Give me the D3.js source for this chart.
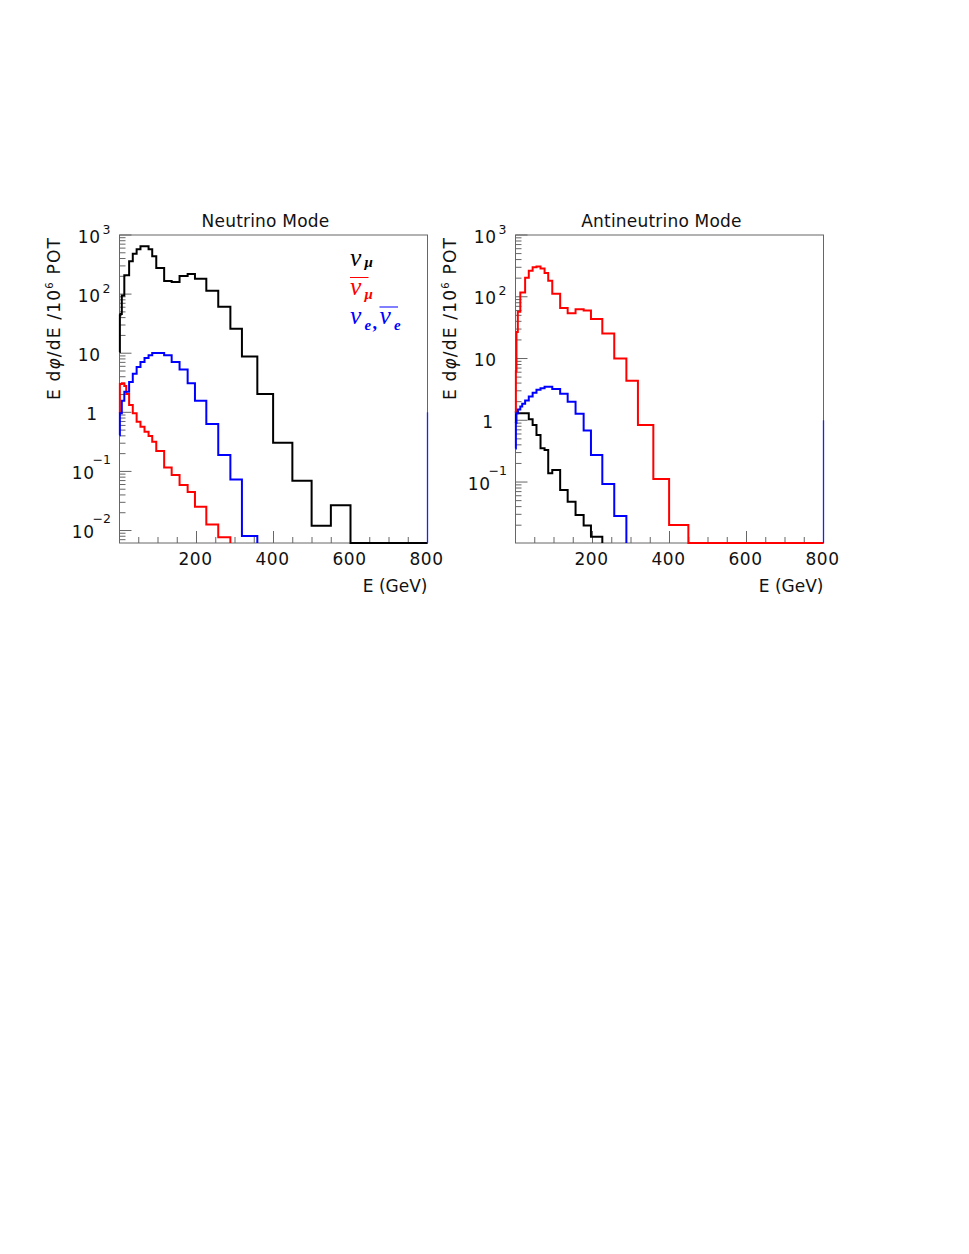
<!DOCTYPE html>
<html><head><meta charset="utf-8">
<script src="https://cdn.jsdelivr.net/npm/d3@7"></script>
<style>body{margin:0;background:#fff} svg{display:block}</style>
</head><body>
<script>
// ---- data ----
const binEdges = [0, 1, 2.5, 6, 12.5, 17.5, 25, 34.5, 44.5, 54.5, 65, 75.5, 85, 95.5, 116, 135.5, 156, 177, 196, 225.5, 256.5, 288, 318, 358, 399, 449, 499, 549, 600, 800];

// Neutrino mode
const nuNumu    = [10.5, 44, 46, 95, 208, 208, 359, 483, 572, 643, 643, 572, 437, 277, 167, 160, 202, 219, 182, 114, 61, 26, 8.8, 2.04, 0.306, 0.0697, 0.012, 0.0267, 0];
const nuNumubar = [0.96, 3.0, 3.0, 3.1, 2.79, 2.04, 1.33, 0.96, 0.69, 0.57, 0.47, 0.397, 0.318, 0.221, 0.117, 0.087, 0.059, 0.045, 0.0253, 0.0127, 0.0077];
const nuNue     = [0.41, 0.96, 0.96, 1.57, 2.23, 2.23, 3.26, 4.5, 5.85, 7.1, 8.3, 9.2, 10.1, 10.1, 9.2, 7.1, 5.3, 3.1, 1.57, 0.634, 0.19, 0.073, 0.0081];

// Antineutrino mode
const antiNumu    = [0.9, 1.38, 1.38, 1.3, 1.3, 1.3, 1.3, 1.04, 0.84, 0.58, 0.353, 0.33, 0.139, 0.157, 0.0744, 0.048, 0.0293, 0.0197, 0.013];
const antiNumubar = [1.3, 6.2, 27, 57, 117, 117, 203, 264, 300, 310, 288, 242, 182, 112, 66, 54, 63, 60, 43.5, 25.4, 10, 4.35, 0.84, 0.112, 0.0202, 0, 0, 0, 0];
const antiNue     = [0.35, 0.9, 1.3, 1.5, 1.67, 1.85, 2.1, 2.42, 2.8, 3.11, 3.3, 3.5, 3.5, 3.2, 2.7, 2.0, 1.27, 0.68, 0.275, 0.093, 0.0282];

const edgeLineValue = 1;          // thin blue line drawn at E = 800
const panelTitles = ["Neutrino Mode", "Antineutrino Mode"];
const xDomain = [0, 800];
const xMajorTicks = [200, 400, 600, 800];
const yMaxValue = 1000;
const yMinNu = 0.00615, yMinAnti = 0.0103;
const xTitle = "E (GeV)";
const seriesColors = ["#000000", "#ff0000", "#0000ff"];

// ---- drawing ----
const W = 969, H = 1254;
const svg = d3.select("body").append("svg").attr("width", W).attr("height", H);
const FONT = "'DejaVu Sans', sans-serif";

const panels = [
  {x0: 119.5, title: panelTitles[0], yMin: yMinNu, series: [nuNumu, nuNumubar, nuNue], legend: true},
  {x0: 515.5, title: panelTitles[1], yMin: yMinAnti, series: [antiNumu, antiNumubar, antiNue], legend: false}
];
const frameTop = 235, frameBottom = 543, pw = 308;

panels.forEach(P => {
  const x = d3.scaleLinear().domain(xDomain).range([P.x0, P.x0 + pw]);
  const y = d3.scaleLog().domain([P.yMin, yMaxValue]).range([frameBottom, frameTop]);
  const g = svg.append("g");

  // frame
  g.append("rect").attr("x", P.x0).attr("y", frameTop).attr("width", pw).attr("height", frameBottom - frameTop)
    .attr("fill", "none").attr("stroke", "#666").attr("stroke-width", 1);

  // x ticks
  d3.range(0, 801, 50).forEach(v => {
    const len = (v % 200 === 0) ? 12 : 6;
    g.append("line").attr("x1", x(v)).attr("x2", x(v)).attr("y1", frameBottom).attr("y2", frameBottom - len)
      .attr("stroke", "#666").attr("stroke-width", 1);
  });
  xMajorTicks.forEach(v => {
    g.append("text").attr("x", x(v) - 1).attr("y", frameBottom + 22).attr("text-anchor", "middle")
      .attr("font-family", FONT).attr("font-size", 17).attr("letter-spacing", 0.5).attr("fill", "#111").text(v);
  });
  g.append("text").attr("x", P.x0 + pw).attr("y", frameBottom + 49).attr("text-anchor", "end")
    .attr("font-family", FONT).attr("font-size", 17).attr("fill", "#111").text(xTitle);

  // y ticks (log)
  const kMin = Math.floor(Math.log10(P.yMin));
  for (let k = kMin; k <= 3; k++) {
    for (let m = 1; m <= 9; m++) {
      const v = m * Math.pow(10, k);
      if (v < P.yMin * 0.999 || v > yMaxValue * 1.001) continue;
      const len = m === 1 ? 12 : 6;
      g.append("line").attr("x1", P.x0).attr("x2", P.x0 + len).attr("y1", y(v)).attr("y2", y(v))
        .attr("stroke", "#666").attr("stroke-width", 1);
    }
    const v = Math.pow(10, k);
    if (v < P.yMin) continue;
    const base = y(v) + 7.5;
    if (k === 0) {
      g.append("text").attr("x", P.x0 - 22.5).attr("y", base).attr("text-anchor", "end")
        .attr("font-family", FONT).attr("font-size", 17).attr("fill", "#111").text("1");
    } else if (k === 1) {
      g.append("text").attr("x", P.x0 - 19).attr("y", base).attr("text-anchor", "end")
        .attr("font-family", FONT).attr("font-size", 17).attr("letter-spacing", 0.5).attr("fill", "#111").text("10");
    } else {
      const bx = k > 0 ? P.x0 - 19 : P.x0 - 25;
      g.append("text").attr("x", bx).attr("y", base).attr("text-anchor", "end")
        .attr("font-family", FONT).attr("font-size", 17).attr("letter-spacing", 0.5).attr("fill", "#111").text("10");
      g.append("text").attr("x", k > 0 ? bx + 2 : bx - 2).attr("y", base - (k > 0 ? 9 : 15))
        .attr("text-anchor", "start").attr("font-family", FONT).attr("font-size", 12.5).attr("fill", "#111")
        .text(k > 0 ? String(k) : "\u2212" + (-k));
    }
  }

  // y title
  const yt = g.append("text").attr("transform", `translate(${P.x0 - 60},${318.5}) rotate(-90)`)
    .attr("text-anchor", "middle").attr("font-family", FONT).attr("font-size", 17)
    .attr("letter-spacing", 1.2).attr("fill", "#111");
  yt.append("tspan").text("E d");
  yt.append("tspan").attr("font-style", "italic").text("\u03c6");
  yt.append("tspan").text("/dE /10");
  yt.append("tspan").attr("font-size", 10).attr("dy", -7).text("6");
  yt.append("tspan").attr("dy", 7).text(" POT");

  // title
  g.append("text").attr("x", P.x0 + pw / 2 - 8).attr("y", 226.5).attr("text-anchor", "middle")
    .attr("font-family", FONT).attr("font-size", 17).attr("letter-spacing", 0.2).attr("fill", "#111").text(P.title);

  // histograms
  function histPath(vals) {
    const p = d3.path();
    vals.forEach((v, i) => {
      const xa = x(binEdges[i]), xb = x(binEdges[i + 1]);
      const yy = v > 0 ? y(v) : frameBottom;
      if (i === 0) p.moveTo(xa, yy); else p.lineTo(xa, yy);
      p.lineTo(xb, yy);
    });
    p.lineTo(x(binEdges[vals.length]), frameBottom);
    return p.toString();
  }
  P.series.forEach((s, i) => {
    g.append("path").attr("d", histPath(s)).attr("fill", "none")
      .attr("stroke", seriesColors[i]).attr("stroke-width", 2).attr("stroke-linejoin", "miter");
  });
  g.append("line").attr("x1", x(xDomain[1])).attr("x2", x(xDomain[1]))
    .attr("y1", frameBottom).attr("y2", y(edgeLineValue))
    .attr("stroke", "#2020ee").attr("stroke-width", 1.3);

  // legend
  if (P.legend) {
    const LF = "'Liberation Serif', 'DejaVu Serif', serif";
    const lx = 350;
    function nu(xp, yb, color, bar, sub, subDy) {
      const t = g.append("text").attr("x", xp).attr("y", yb).attr("font-family", LF)
        .attr("font-style", "italic").attr("font-size", 25.5).attr("fill", color).text("\u03bd");
      const bb = t.node().getBBox();
      const r = bb.x + bb.width + 2.5;
      if (bar) {
        g.append("line").attr("x1", xp).attr("x2", r + 4).attr("y1", yb - 17).attr("y2", yb - 17)
          .attr("stroke", color).attr("stroke-width", 1);
      }
      const s = g.append("text").attr("x", r).attr("y", yb + subDy).attr("font-family", LF)
        .attr("font-style", "italic").attr("font-weight", "bold").attr("font-size", 15).attr("fill", color).text(sub);
      const sb = s.node().getBBox();
      return sb.x + sb.width;
    }
    nu(lx, 266, seriesColors[0], false, "\u03bc", 1);
    nu(lx, 294.5, seriesColors[1], true, "\u03bc", 4);
    const nx = nu(lx, 324, seriesColors[2], false, "e", 6);
    g.append("text").attr("x", nx + 1).attr("y", 329).attr("font-family", LF).attr("font-weight", "bold")
      .attr("font-size", 18).attr("fill", seriesColors[2]).text(",");
    nu(nx + 8, 324, seriesColors[2], true, "e", 6);
  }
});
</script>
</body></html>
